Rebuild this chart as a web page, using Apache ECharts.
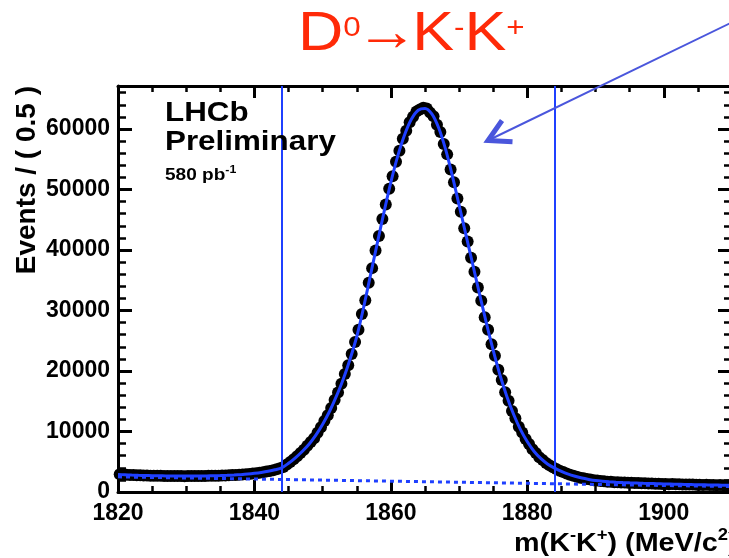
<!DOCTYPE html>
<html>
<head>
<meta charset="utf-8">
<script src="https://cdn.jsdelivr.net/npm/echarts@6/dist/echarts.min.js"></script>
<style>
html,body{margin:0;padding:0;background:#ffffff;}
#c{width:729px;height:558px;}
</style>
</head>
<body>
<div id="c"></div>
<script>
// ---- data ----
const binStart = 1820;      // first bin lower edge, MeV/c^2
const binWidth = 0.5;       // "Events / ( 0.5 )"
const counts = [
  2940, 2880, 2850, 2800, 2810, 2760, 2750, 2720, 2740, 2690,
  2700, 2670, 2690, 2650, 2660, 2640, 2660, 2630, 2650, 2620,
  2650, 2630, 2650, 2640, 2660, 2650, 2670, 2670, 2690, 2700,
  2720, 2740, 2760, 2790, 2820, 2860, 2890, 2940, 2990, 3050,
  3110, 3190, 3270, 3370, 3470, 3600, 3750, 3910, 4150, 4550,
  4950, 5400, 5900, 6450, 7000, 7650, 8250, 8900, 9800, 10700,
  11750, 12700, 13900, 15200, 16450, 17900, 19500, 20950, 22800, 24800,
  26800, 29400, 31700, 34600, 37000, 39900, 42300, 45100, 47500, 50100,
  52200, 54600, 56400, 58400, 59700, 61100, 62000, 62900, 63200, 63500,
  63400, 62700, 62100, 60700, 59500, 57500, 55800, 53300, 51200, 48500,
  46300, 43600, 41400, 38700, 36400, 33800, 31600, 28900, 26800, 24400,
  22500, 20200, 18500, 16500, 15100, 13400, 12200, 10800, 9850, 8750,
  7950, 7050, 6450, 5750, 5300, 4780, 4420, 4080, 3820, 3530,
  3320, 3040, 2870, 2670, 2530, 2370, 2260, 2130, 2060, 1950,
  1890, 1820, 1770, 1710, 1680, 1630, 1620, 1560, 1560, 1510,
  1510, 1470, 1470, 1430, 1430, 1390, 1400, 1370, 1370, 1330,
  1340, 1300, 1310, 1270, 1280, 1240, 1250, 1220, 1230, 1190,
  1200, 1170, 1180, 1150, 1160, 1130, 1140, 1110, 1120, 1090
];
const fitStart = 1820;
const fitStep = 1;
const fitValues = [
  2900, 2850, 2800, 2760, 2730, 2700, 2680, 2660, 2650, 2640,
  2640, 2640, 2650, 2660, 2680, 2710, 2750, 2800, 2870, 2960,
  3080, 3230, 3420, 3670, 4000, 4750, 5650, 6700, 7900, 9400,
  11200, 13300, 15800, 18600, 21900, 25700, 30500, 35800, 41100, 46300,
  51200, 55500, 59000, 61600, 63100, 63400, 62500, 60200, 56700, 52300,
  47400, 42500, 37600, 32700, 27900, 23400, 19300, 15800, 12800, 10300,
  8300, 6700, 5500, 4600, 3950, 3400, 2950, 2600, 2300, 2080,
  1900, 1780, 1690, 1620, 1560, 1510, 1470, 1430, 1400, 1370,
  1340, 1310, 1280, 1250, 1230, 1200, 1180, 1160, 1140, 1120, 1100
];
const bkgMass = [1820, 1910];
const bkgValues = [2500, 900];
const windowEdges = [1844, 1884];
const xTickValues = [1820, 1840, 1860, 1880, 1900];
const xRange = [1820, 1910];
const xMinorStep = 5;
const yTickValues = [0, 10000, 20000, 30000, 40000, 50000, 60000];
const yRange = [0, 67100];
const yMinorStep = 2000;

// ---- styles ----
const FONT = '"Liberation Sans", Arial, Helvetica, sans-serif';
const BLUE = '#1f40ff';
const RED = '#ff2a08';
const ARROW = '#4a56dc';

const dataPts = counts.map((v, i) => [binStart + binWidth * (i + 0.5), v]);
const fitPts = fitValues.map((v, i) => [fitStart + fitStep * i, v]);
const bkgPts = bkgMass.map((m, i) => [m, bkgValues[i]]);

const xMajorInt = xTickValues[1] - xTickValues[0];
const yMajorInt = yTickValues[1] - yTickValues[0];
const plain = v => String(Math.round(v));

function xAx(pos, minor, labels) {
  return {
    type: 'value', position: pos, min: xRange[0], max: xRange[1],
    interval: minor ? xMinorStep : xMajorInt,
    axisLine: {show: !minor, onZero: false, lineStyle: {color: '#000', width: 3}},
    axisTick: {show: true, inside: true, length: minor ? 6 : 12, lineStyle: {color: '#000', width: minor ? 2.5 : 3}},
    axisLabel: {show: labels, showMaxLabel: false, formatter: plain, margin: 10, fontSize: 23, fontWeight: 'bold', fontFamily: FONT, color: '#000'},
    splitLine: {show: false}
  };
}
function yAx(pos, minor, labels) {
  return {
    type: 'value', position: pos, min: yRange[0], max: yRange[1],
    interval: minor ? yMinorStep : yMajorInt,
    axisLine: {show: !minor, onZero: false, lineStyle: {color: '#000', width: 3}},
    axisTick: {show: true, inside: true, length: minor ? 8 : 14, lineStyle: {color: '#000', width: minor ? 2.5 : 3}},
    axisLabel: {show: labels, showMaxLabel: false, formatter: plain, margin: 8, fontSize: 23, fontWeight: 'bold', fontFamily: FONT, color: '#000'},
    splitLine: {show: false}
  };
}

const chart = echarts.init(document.getElementById('c'), null, {renderer: 'canvas', width: 729, height: 558});
chart.setOption({
  animation: false,
  backgroundColor: '#ffffff',
  grid: {left: 118, right: -3, top: 86, bottom: 66, containLabel: false, outerBoundsMode: 'none'},
  xAxis: [xAx('bottom', false, true), xAx('bottom', true, false), xAx('top', false, false), xAx('top', true, false)],
  yAxis: [yAx('left', false, true), yAx('left', true, false), yAx('right', false, false), yAx('right', true, false)],
  series: [
    {
      name: 'Data', type: 'scatter', data: dataPts, symbol: 'circle', symbolSize: 12,
      itemStyle: {color: '#000', opacity: 1, borderWidth: 0}, z: 2, silent: true
    },
    {
      name: 'Background', type: 'line', data: bkgPts, showSymbol: false, symbol: 'none',
      lineStyle: {color: BLUE, width: 3, type: [4, 4], opacity: 1}, z: 3, silent: true
    },
    {
      name: 'Fit', type: 'line', data: fitPts, showSymbol: false, symbol: 'none', smooth: 0.3,
      lineStyle: {color: BLUE, width: 3, opacity: 1}, z: 4, silent: true,
      markLine: {
        silent: true, symbol: 'none', label: {show: false},
        lineStyle: {color: BLUE, width: 2, type: 'solid', opacity: 1},
        data: windowEdges.map(v => ({xAxis: v}))
      }
    }
  ],
  graphic: [
    {
      type: 'text', x: 298, y: 35, scaleX: 1.12, z: 10,
      style: {
        text: '{a|D}{s|0}{r|\u2192}{a|K}{s|-}{a|K}{s|+}',
        rich: {
          a: {fontSize: 56, lineHeight: 42, fontFamily: FONT, fill: RED},
          r: {fontSize: 56, lineHeight: 42, width: 46, align: 'center', fontFamily: FONT, fill: RED},
          s: {fontSize: 28, lineHeight: 28, verticalAlign: 'top', fontFamily: FONT, fill: RED}
        },
        fill: RED, align: 'left', verticalAlign: 'middle', textAlign: 'left', textVerticalAlign: 'middle'
      }
    },
    {
      type: 'text', x: 165, y: 113, scaleX: 1.12, z: 10,
      style: {text: 'LHCb', font: 'bold 28px ' + FONT, fill: '#000', align: 'left', verticalAlign: 'middle', textAlign: 'left', textVerticalAlign: 'middle'}
    },
    {
      type: 'text', x: 165, y: 142, scaleX: 1.12, z: 10,
      style: {text: 'Preliminary', font: 'bold 28px ' + FONT, fill: '#000', align: 'left', verticalAlign: 'middle', textAlign: 'left', textVerticalAlign: 'middle'}
    },
    {
      type: 'text', x: 165, y: 175, scaleX: 1.12, z: 10,
      style: {
        text: '{a|580 pb}{s|-1}',
        rich: {
          a: {fontSize: 17, fontWeight: 'bold', lineHeight: 21, fontFamily: FONT, fill: '#000'},
          s: {fontSize: 11, fontWeight: 'bold', lineHeight: 11, verticalAlign: 'top', fontFamily: FONT, fill: '#000'}
        },
        fill: '#000', align: 'left', verticalAlign: 'middle', textAlign: 'left', textVerticalAlign: 'middle'
      }
    },
    {
      type: 'text', x: 514, y: 544, scaleX: 1.15, z: 10,
      style: {
        text: '{a|m(K}{s|-}{a|K}{s|+}{a|) (MeV/c}{s|2}{a|)}',
        rich: {
          a: {fontSize: 25, fontWeight: 'bold', lineHeight: 32, fontFamily: FONT, fill: '#000'},
          s: {fontSize: 16, fontWeight: 'bold', lineHeight: 16, verticalAlign: 'top', fontFamily: FONT, fill: '#000'}
        },
        fill: '#000', align: 'left', verticalAlign: 'middle', textAlign: 'left', textVerticalAlign: 'middle'
      }
    },
    {
      type: 'text', x: 27, y: 86, rotation: Math.PI / 2, z: 10,
      style: {text: 'Events / ( 0.5 )', font: 'bold 28px ' + FONT, fill: '#000', align: 'right', verticalAlign: 'middle', textAlign: 'right', textVerticalAlign: 'middle'}
    },
    {
      type: 'line', z: 10, silent: true,
      shape: {x1: 745, y1: 16, x2: 490, y2: 139.5},
      style: {stroke: ARROW, lineWidth: 2}
    },
    {
      type: 'polyline', z: 10, silent: true,
      shape: {points: [[502, 120.5], [488, 140.5], [512.5, 141.8]]},
      style: {stroke: ARROW, lineWidth: 5, lineJoin: 'miter', fill: null}
    }
  ]
});
</script>
</body>
</html>
